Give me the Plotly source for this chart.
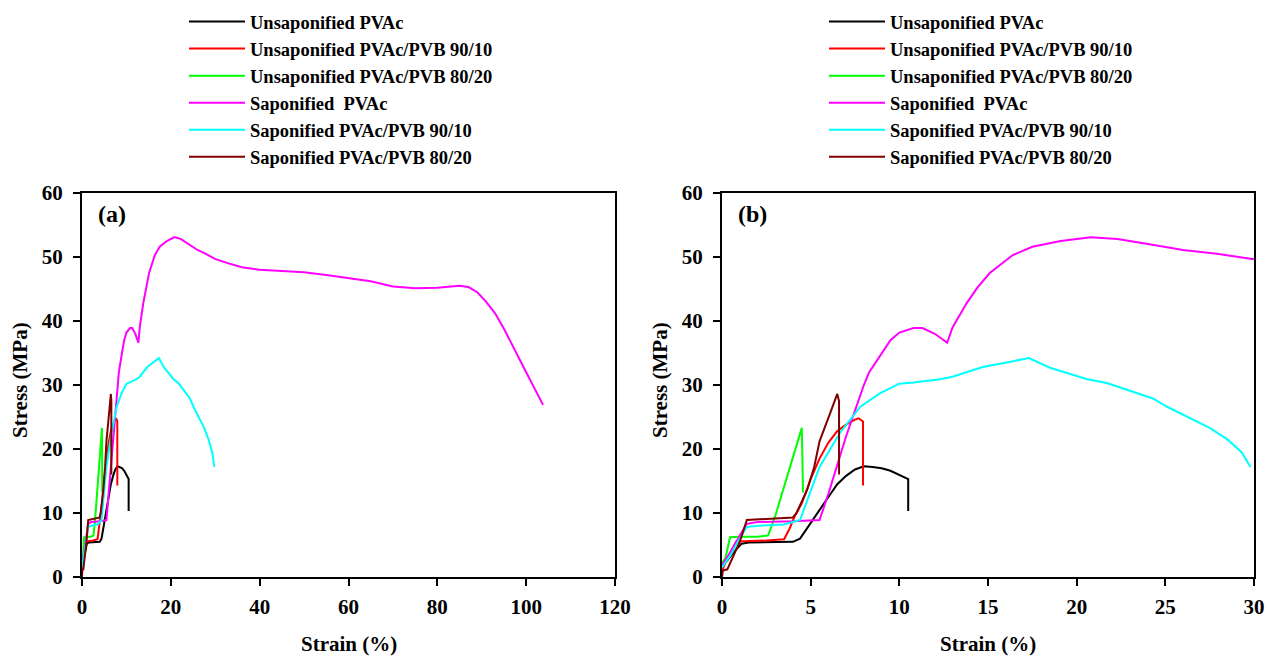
import plotly.graph_objects as go

# ---------------- data (strain %, stress MPa) ----------------
names = ["Unsaponified PVAc", "Unsaponified PVAc/PVB 90/10", "Unsaponified PVAc/PVB 80/20",
         "Saponified  PVAc", "Saponified PVAc/PVB 90/10", "Saponified PVAc/PVB 80/20"]
colors = ["#000000", "#FF0000", "#00FF00", "#FF00FF", "#00FFFF", "#800000"]

unsap_x = [0, 0.3, 0.7, 1.1, 1.5, 3.0, 4.0, 4.4, 5.0, 5.5, 6.0, 6.5, 7.0, 7.5, 8.0, 8.5, 9.0, 9.5, 10.0, 10.5, 10.5]
unsap_y = [1.7, 2.6, 4.0, 5.2, 5.4, 5.4, 5.5, 6.0, 8.5, 10.5, 12.5, 14.5, 15.8, 16.8, 17.3, 17.2, 17.0, 16.6, 16.0, 15.3, 10.3]

unsap90_x = [0, 0.4, 0.8, 1.2, 2.5, 3.5, 3.8, 4.1, 4.5, 5.0, 5.5, 6.0, 6.5, 7.0, 7.5, 7.7, 7.95, 7.95]
unsap90_y = [1.0, 3.5, 5.5, 5.6, 5.7, 5.9, 7.5, 9.5, 11.5, 15.3, 18.5, 21.0, 22.8, 23.8, 24.6, 24.8, 24.3, 14.3]

unsap80_x = [0, 0.2, 0.45, 1.0, 2.0, 2.6, 3.0, 3.5, 4.0, 4.5, 4.57]
unsap80_y = [2.2, 3.0, 6.2, 6.3, 6.3, 6.5, 9.5, 14.0, 18.5, 23.3, 13.2]

sap_x = [0, 0.5, 1.0, 1.4, 2.0, 4.0, 5.5, 6.0, 6.5, 7.0, 7.5, 8.0, 8.3, 9.0, 9.5, 10.0, 10.8, 11.3, 12.0,
         12.7, 13.0, 13.8, 14.4, 15.1, 16.4, 17.5, 19.1, 20.8, 22.3, 24.1, 26.0, 27.9, 29.9, 33, 36, 40,
         45, 50, 55, 60, 65, 70, 75, 80, 85, 87, 89, 91, 93, 95, 97, 100, 103.8]
sap_y = [1.8, 4.0, 6.5, 8.3, 8.6, 8.7, 8.9, 13.0, 17.5, 22.0, 26.0, 30.0, 32.0, 35.0, 37.0, 38.2, 38.9, 38.9, 38.0,
         36.6, 39.0, 42.8, 45.2, 47.5, 50.3, 51.6, 52.5, 53.1, 52.8, 52.0, 51.1, 50.5, 49.7, 49.0, 48.4, 48.0,
         47.8, 47.6, 47.2, 46.7, 46.2, 45.4, 45.1, 45.2, 45.5, 45.3, 44.5, 43.0, 41.2, 38.8, 36.0, 32.0, 26.9]

sap90_x = [0, 0.5, 1.0, 1.4, 2.0, 3.5, 4.4, 5.5, 6.65, 7.8, 8.9, 10.0, 10.8, 12.3, 13.0, 14.7, 16.2, 17.3,
           18.5, 20.6, 21.7, 23.2, 24.3, 25.1, 26.4, 27.5, 28.5, 29.3, 29.8]
sap90_y = [1.5, 3.5, 6.0, 7.8, 8.0, 8.2, 8.9, 17.2, 22.5, 26.6, 28.7, 30.2, 30.4, 30.9, 31.3, 32.8, 33.6, 34.2,
           32.7, 30.9, 30.3, 28.9, 27.9, 26.6, 24.8, 23.3, 21.5, 19.5, 17.2]

sap80_x = [0, 0.05, 0.3, 0.6, 1.0, 1.4, 2.0, 3.0, 4.0, 4.2, 4.8, 5.2, 5.5, 6.1, 6.5, 6.6, 6.6]
sap80_y = [0.0, 1.0, 1.2, 3.0, 5.5, 8.9, 9.0, 9.1, 9.3, 10.0, 13.6, 17.2, 21.2, 25.6, 28.6, 27.5, 16.0]

xs = [unsap_x, unsap90_x, unsap80_x, sap_x, sap90_x, sap80_x]
ys = [unsap_y, unsap90_y, unsap80_y, sap_y, sap90_y, sap80_y]

y_ticks = [0, 10, 20, 30, 40, 50, 60]
xa_ticks = [0, 20, 40, 60, 80, 100, 120]
xb_ticks = [0, 5, 10, 15, 20, 25, 30]

# ---------------- figure ----------------
W, H = 1268, 661
FONT = "Liberation Serif"

fig = go.Figure()
for i in range(6):
    fig.add_trace(go.Scatter(x=xs[i], y=ys[i], mode="lines", name=names[i],
                             line=dict(color=colors[i], width=2),
                             xaxis="x", yaxis="y", legend="legend"))
for i in range(6):
    fig.add_trace(go.Scatter(x=xs[i], y=ys[i], mode="lines", name=names[i],
                             line=dict(color=colors[i], width=2),
                             xaxis="x2", yaxis="y2", legend="legend2"))

ydom = [(H - 577) / H, (H - 193) / H]
axis_common = dict(showline=True, linecolor="black", linewidth=2, mirror=True,
                   ticks="outside", ticklen=7, tickwidth=2, tickcolor="black",
                   showgrid=False, zeroline=False, automargin=False,
                   tickfont=dict(family=FONT, size=21, color="black", weight="bold"))
title_font = dict(family=FONT, size=21, color="black", weight="bold")
legend_font = dict(family=FONT, size=18.5, color="black", weight="bold")

fig.update_layout(
    template="none",
    width=W, height=H,
    margin=dict(l=0, r=0, t=0, b=0, autoexpand=False),
    paper_bgcolor="white", plot_bgcolor="white",
    xaxis=dict(domain=[82 / W, 615 / W], range=[0, 120], tickvals=xa_ticks,
               anchor="y", ticklabelstandoff=3, **axis_common),
    yaxis=dict(domain=ydom, range=[0, 60], tickvals=y_ticks, anchor="x",
               ticklabelstandoff=6, **axis_common),
    xaxis2=dict(domain=[722 / W, 1254 / W], range=[0, 30], tickvals=xb_ticks,
                anchor="y2", ticklabelstandoff=3, **axis_common),
    yaxis2=dict(domain=ydom, range=[0, 60], tickvals=y_ticks, anchor="x2",
                ticklabelstandoff=6, **axis_common),
    legend=dict(x=184 / W, y=1 - 3 / H, xanchor="left", yanchor="top",
                font=legend_font, bgcolor="rgba(0,0,0,0)", itemwidth=56, tracegroupgap=0),
    legend2=dict(x=824 / W, y=1 - 3 / H, xanchor="left", yanchor="top",
                 font=legend_font, bgcolor="rgba(0,0,0,0)", itemwidth=56, tracegroupgap=0),
    showlegend=True,
)

# axis titles and panel labels
ann = []
for cx in [(82 + 615) / 2, (722 + 1254) / 2]:
    ann.append(dict(text="Strain (%)", x=cx / W, y=(H - 644) / H, xref="paper", yref="paper",
                    showarrow=False, xanchor="center", yanchor="middle", font=title_font))
for cx in [20, 660]:
    ann.append(dict(text="Stress (MPa)", x=cx / W, y=(H - 380) / H, xref="paper", yref="paper",
                    showarrow=False, xanchor="center", yanchor="middle", textangle=-90, font=title_font))
for lbl, cx in [("(a)", 112), ("(b)", 752)]:
    ann.append(dict(text=lbl, x=cx / W, y=(H - 214) / H, xref="paper", yref="paper",
                    showarrow=False, xanchor="center", yanchor="middle",
                    font=dict(family=FONT, size=24, color="black", weight="bold")))
fig.update_layout(annotations=ann)

fig.write_html("out.html")
